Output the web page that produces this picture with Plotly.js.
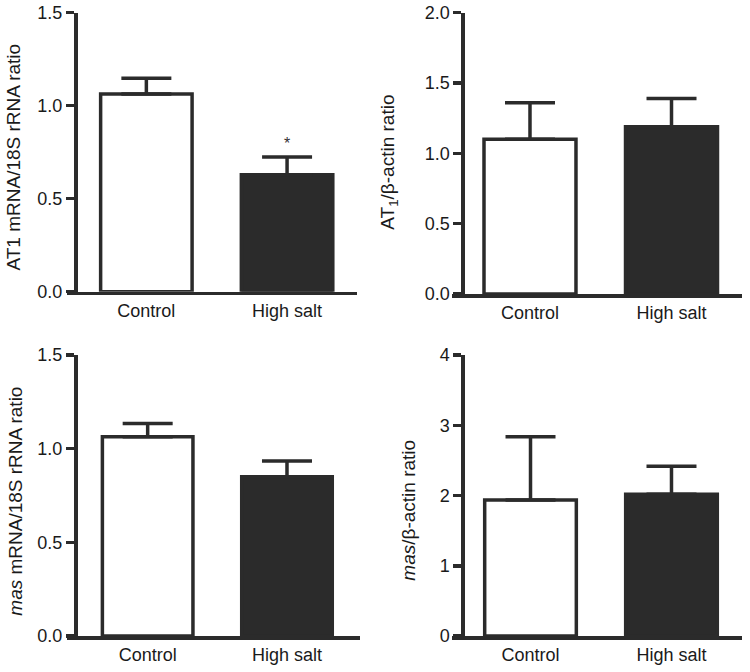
<!DOCTYPE html>
<html>
<head>
<meta charset="utf-8">
<script src="https://cdn.plot.ly/plotly-3.0.1.min.js"></script>
<style>html,body{margin:0;padding:0;background:#fff;}#chart{width:750px;height:672px;}</style>
</head>
<body>
<div id="chart"></div>
<script>
// ---- data ----
const categories = ['Control', 'High salt'];
const catPos = [0, 1];
const at1mRNA = [1.063, 0.629];
const at1mRNAErr = [0.084, 0.095];
const at1Protein = [1.10, 1.19];
const at1ProteinErr = [0.26, 0.20];
const masmRNA = [1.064, 0.85];
const masmRNAErr = [0.071, 0.084];
const masProtein = [1.936, 2.017];
const masProteinErr = [0.90, 0.40];
const yTitles = ['AT1 mRNA/18S rRNA ratio', 'AT<sub>1</sub>/β-actin ratio', '<i>mas</i> mRNA/18S rRNA ratio', '<i>mas</i>/β-actin ratio'];
const yRanges = [[0, 1.5], [0, 2.0], [0, 1.5], [0, 4]];
const yTicks = [[0, 0.5, 1.0, 1.5], [0, 0.5, 1.0, 1.5, 2.0], [0, 0.5, 1.0, 1.5], [0, 1, 2, 3, 4]];
const yTickText = [['0.0', '0.5', '1.0', '1.5'], ['0.0', '0.5', '1.0', '1.5', '2.0'], ['0.0', '0.5', '1.0', '1.5'], ['0', '1', '2', '3', '4']];
const sigMarks = [[null, '*'], [null, null], [null, null], [null, null]];

const W = 750, H = 672;
const DARK = '#2b2b2b';
const FONT = 'Liberation Sans, Arial, sans-serif';

// panel geometry in pixels
const panels = [
  {x0: 67, x1: 357, yTop: 12.7, yBot: 291.7, yAxisX: 75, xr: [-0.564, 1.497], titleX: 13.5, titleY: 157, vals: at1mRNA, errs: at1mRNAErr},
  {x0: 452.3, x1: 741.7, yTop: 12.7, yBot: 294, yAxisX: 462.3, xr: [-0.549, 1.496], titleX: 389, titleY: 162.7, vals: at1Protein, errs: at1ProteinErr},
  {x0: 67, x1: 360, yTop: 355, yBot: 636, yAxisX: 75, xr: [-0.579, 1.524], titleX: 16, titleY: 501.7, vals: masmRNA, errs: masmRNAErr},
  {x0: 451.7, x1: 741.7, yTop: 355, yBot: 636, yAxisX: 462.3, xr: [-0.559, 1.498], titleX: 409, titleY: 510.7, vals: masProtein, errs: masProteinErr}
];

const traces = [];
const layout = {
  width: W, height: H,
  margin: {l: 0, r: 0, t: 0, b: 0},
  paper_bgcolor: '#fff', plot_bgcolor: 'rgba(0,0,0,0)',
  showlegend: false,
  font: {family: FONT, size: 18, color: '#1a1a1a'},
  annotations: []
};

panels.forEach((p, i) => {
  const n = i + 1;
  const xa = 'x' + (n === 1 ? '' : n), ya = 'y' + (n === 1 ? '' : n);
  const xk = 'xaxis' + (n === 1 ? '' : n), yk = 'yaxis' + (n === 1 ? '' : n);
  traces.push({
    type: 'bar', x: catPos, y: p.vals, xaxis: xa, yaxis: ya, width: 0.65,
    marker: {color: ['#ffffff', DARK], line: {color: DARK, width: 3.5}},
    error_y: {type: 'data', symmetric: false, array: p.errs, arrayminus: [0, 0], color: DARK, thickness: 3.5, width: 25},
    hoverinfo: 'none'
  });
  layout[xk] = {
    domain: [p.x0 / W, p.x1 / W], range: p.xr, anchor: ya,
    showline: true, linecolor: DARK, linewidth: 3.5, mirror: false,
    showgrid: false, zeroline: false, ticks: '',
    tickmode: 'array', tickvals: catPos, ticktext: categories,
    tickfont: {family: FONT, size: 18, color: '#1a1a1a'}, fixedrange: true
  };
  layout[yk] = {
    domain: [1 - p.yBot / H, 1 - p.yTop / H], range: yRanges[i],
    anchor: 'free', position: p.yAxisX / W,
    showline: true, linecolor: DARK, linewidth: 3.5,
    showgrid: false, zeroline: false,
    ticks: 'outside', ticklen: 8, tickwidth: 3.5, tickcolor: DARK,
    tickmode: 'array', tickvals: yTicks[i], ticktext: yTickText[i],
    tickfont: {family: FONT, size: 18, color: '#1a1a1a'}, fixedrange: true
  };
  layout.annotations.push({
    xref: 'paper', yref: 'paper', x: p.titleX / W, y: 1 - p.titleY / H,
    text: yTitles[i], textangle: -90, showarrow: false,
    xanchor: 'center', yanchor: 'middle',
    font: {family: FONT, size: 19, color: '#1a1a1a'}
  });
  sigMarks[i].forEach((m, j) => {
    if (m) {
      layout.annotations.push({
        xref: xa, yref: ya, x: catPos[j], y: p.vals[j] + p.errs[j],
        text: m, showarrow: false, xanchor: 'center', yanchor: 'bottom', yshift: 3,
        font: {family: FONT, size: 16, color: '#333'}
      });
    }
  });
});

Plotly.newPlot('chart', traces, layout, {displayModeBar: false, staticPlot: true});
</script>
</body>
</html>
